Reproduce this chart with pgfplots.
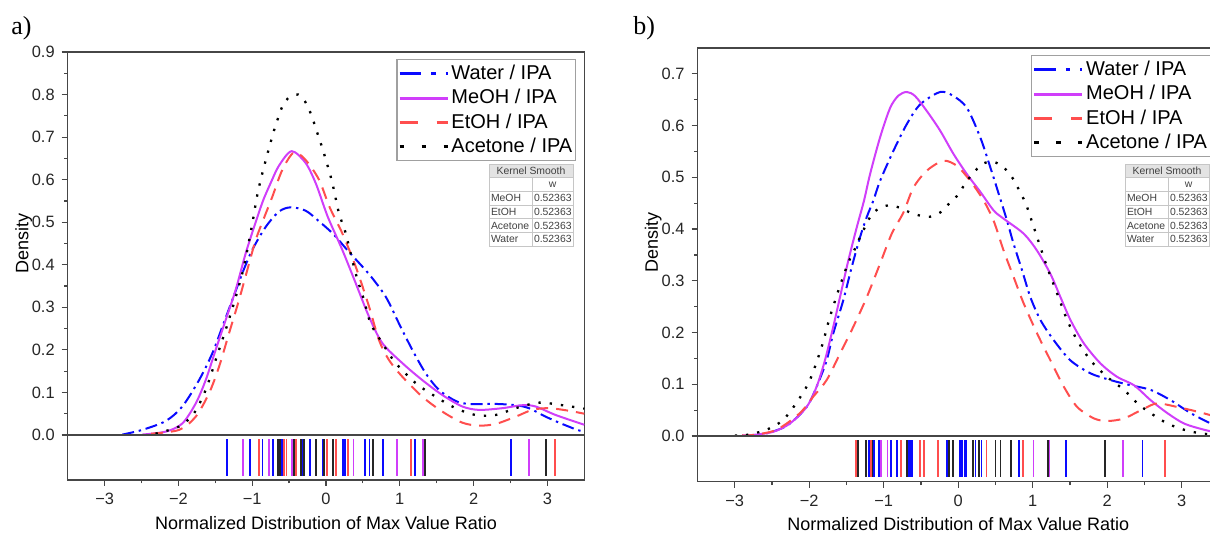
\documentclass[border=0pt]{standalone}
\usepackage{fontspec}
\setmainfont{Liberation Sans}
\newfontfamily\seriffont{Liberation Serif}
\usepackage{pgfplots}
\pgfplotsset{compat=1.18}

\definecolor{cBlue}{RGB}{10,10,255}
\definecolor{cMag}{RGB}{208,62,250}
\definecolor{cRed}{RGB}{255,78,78}
\definecolor{cAxis}{RGB}{70,70,70}
\definecolor{cLeg}{RGB}{160,160,160}

\pgfplotsset{
  every axis/.append style={
    scale only axis,
    xmin=-3.5, xmax=3.5,
    axis line style={cAxis, line width=0.75pt},
    tick align=outside,
    major tick length=3pt,
    minor tick length=1.7pt,
    every tick/.append style={cAxis, line width=0.6pt},
    tick label style={font=\fontsize{8.2}{10}\selectfont, text=black!85},
    label style={font=\fontsize{9}{11}\selectfont},
  },
  mainax/.style={
    ymin=0,
    xtick=\empty,
    ytick pos=left,
    ylabel={Density},
    ylabel style={at={(axis description cs:-0.085,0.5)}, anchor=center},
    legend style={at={(1,1)}, anchor=north east, xshift=-4pt, yshift=-3.5pt,
      draw=cLeg, line width=0.6pt, fill=white,
      font=\fontsize{10}{12}\selectfont,
      inner xsep=0.5pt, inner ysep=1.5pt, row sep=1pt,
      nodes={inner sep=1.2pt}},
    legend cell align=left,
    legend image code/.code={\draw[##1] (0pt,0pt) -- (24pt,0pt);},
  },
  rugax/.style={
    ymin=0, ymax=1,
    ytick=\empty,
    xtick={-3,-2,-1,0,1,2,3},
    xticklabels={−3,−2,−1,0,1,2,3},
    minor xtick={-2.5,-1.5,-0.5,0.5,1.5,2.5},
    xtick pos=left,
    xlabel={Normalized Distribution of Max Value Ratio},
    xlabel style={at={(axis description cs:0.5,0)}, anchor=center, yshift=-21.4pt},
    clip=false,
  },
  rug/.style={only marks, mark=|, mark size=9.2pt, mark options={line width=0.9pt}},
  wat/.style={cBlue, line width=1pt, dash pattern=on 6pt off 2.4pt on 1.2pt off 2.4pt, smooth},
  meo/.style={cMag, line width=1pt, smooth},
  eto/.style={cRed, line width=1pt, dash pattern=on 6pt off 4pt, smooth},
  ace/.style={black, line width=1.15pt, dash pattern=on 1.15pt off 4.5pt, smooth},
}

\newcommand{\legendentries}{%
  \addlegendimage{cBlue, line width=1.5pt, dash pattern=on 10.8pt off 5pt on 2.3pt off 5pt}
  \addlegendentry{Water / IPA}
  \addlegendimage{cMag, line width=1.5pt}
  \addlegendentry{MeOH / IPA}
  \addlegendimage{cRed, line width=1.5pt, dash pattern=on 9pt off 9.5pt}
  \addlegendentry{EtOH / IPA}
  \addlegendimage{black, line width=1.5pt, dash pattern=on 2.3pt off 8.7pt}
  \addlegendentry{Acetone / IPA}
}

\newcommand{\ktable}[2]{%
  \begin{scope}[shift={(#1,#2)}, font=\fontsize{5.2}{6}\selectfont, text=black!75]
    \fill[gray!22] (0pt,0pt) rectangle (42pt,-6.85pt);
    \draw[gray!45, line width=0.35pt] (0pt,0pt) rectangle (42pt,-41.1pt);
    \foreach \i in {1,...,5} {\draw[gray!45, line width=0.35pt] (0pt,-\i*6.85pt) -- (42pt,-\i*6.85pt);}
    \draw[gray!45, line width=0.35pt] (21.5pt,-6.85pt) -- (21.5pt,-41.1pt);
    \node[inner sep=0pt] at (21pt,-3.42pt) {Kernel Smooth};
    \node[inner sep=0pt] at (31.75pt,-10.27pt) {w};
    \node[anchor=west, inner sep=0pt] at (0.8pt,-17.12pt) {MeOH};
    \node[anchor=west, inner sep=0pt] at (0.8pt,-23.97pt) {EtOH};
    \node[anchor=west, inner sep=0pt] at (0.8pt,-30.82pt) {Acetone};
    \node[anchor=west, inner sep=0pt] at (0.8pt,-37.67pt) {Water};
    \node[anchor=west, inner sep=0pt] at (22.3pt,-17.12pt) {0.52363};
    \node[anchor=west, inner sep=0pt] at (22.3pt,-23.97pt) {0.52363};
    \node[anchor=west, inner sep=0pt] at (22.3pt,-30.82pt) {0.52363};
    \node[anchor=west, inner sep=0pt] at (22.3pt,-37.67pt) {0.52363};
  \end{scope}}

\begin{document}
\begin{tikzpicture}
\path (0,0) rectangle (605pt,267pt);

% ================= Panel a =================
\begin{axis}[mainax, at={(33.85pt,49.5pt)}, anchor=south west,
  width=258.3pt, height=191.5pt, ymax=0.9,
  ytick={0,0.1,0.2,0.3,0.4,0.5,0.6,0.7,0.8,0.9},
  yticklabels={0.0,0.1,0.2,0.3,0.4,0.5,0.6,0.7,0.8,0.9},
  minor ytick={0.05,0.15,0.25,0.35,0.45,0.55,0.65,0.75,0.85}]
\legendentries
\addplot[wat, forget plot] coordinates {
(-2.76,0.001) (-2.49,0.012) (-2.17,0.033) (-1.947,0.067) (-1.72,0.129) (-1.54,0.192)
(-1.405,0.254) (-1.27,0.317) (-1.134,0.38) (-0.999,0.435) (-0.817,0.489) (-0.637,0.525)
(-0.478,0.535) (-0.275,0.527) (-0.1,0.503) (0.1,0.472) (0.312,0.43) (0.583,0.378)
(0.809,0.325) (0.989,0.262) (1.17,0.2) (1.351,0.145) (1.531,0.106) (1.757,0.08)
(1.938,0.073) (2.3,0.073) (2.57,0.07) (2.75,0.063) (2.977,0.043) (3.2,0.026)
(3.405,0.012) (3.5,0.008)};
\addplot[meo, forget plot] coordinates {
(-2.49,0.001) (-2.17,0.008) (-1.947,0.027) (-1.766,0.074) (-1.63,0.129) (-1.495,0.2)
(-1.36,0.27) (-1.224,0.341) (-1.088,0.427) (-0.953,0.5) (-0.85,0.552) (-0.75,0.592)
(-0.637,0.633) (-0.465,0.667) (-0.275,0.639) (-0.14,0.592) (-0.027,0.537) (0.04,0.506)
(0.221,0.435) (0.402,0.357) (0.583,0.278) (0.763,0.216) (1.034,0.169) (1.305,0.129)
(1.576,0.094) (1.847,0.067) (2.073,0.059) (2.389,0.063) (2.66,0.07) (2.84,0.067)
(3.112,0.047) (3.5,0.024)};
\addplot[eto, forget plot] coordinates {
(-2.37,0.003) (-1.99,0.012) (-1.766,0.043) (-1.585,0.098) (-1.45,0.16) (-1.314,0.239)
(-1.179,0.317) (-1.066,0.388) (-0.953,0.458) (-0.84,0.51) (-0.727,0.56) (-0.592,0.623)
(-0.434,0.664) (-0.275,0.646) (-0.095,0.6) (0.05,0.535) (0.221,0.474) (0.402,0.396)
(0.583,0.302) (0.718,0.223) (0.854,0.176) (1.034,0.137) (1.305,0.09) (1.576,0.055)
(1.847,0.029) (2.073,0.022) (2.3,0.026) (2.57,0.043) (2.795,0.059) (3.02,0.063)
(3.29,0.057) (3.5,0.05)};
\addplot[ace, forget plot] coordinates {
(-2.31,0.003) (-1.99,0.02) (-1.789,0.051) (-1.63,0.106) (-1.495,0.176) (-1.36,0.247)
(-1.247,0.31) (-1.134,0.38) (-1.066,0.435) (-0.99,0.505) (-0.931,0.564) (-0.863,0.615)
(-0.772,0.674) (-0.695,0.721) (-0.592,0.772) (-0.51,0.792) (-0.375,0.8) (-0.285,0.784)
(-0.208,0.756) (-0.108,0.705) (-0.014,0.654) (0.086,0.592) (0.176,0.521) (0.267,0.474)
(0.402,0.38) (0.515,0.317) (0.605,0.262) (0.763,0.216) (0.944,0.169) (1.215,0.122)
(1.486,0.09) (1.757,0.063) (2.028,0.047) (2.3,0.047) (2.57,0.063) (2.886,0.076)
(3.2,0.07) (3.5,0.062)};
\end{axis}

\begin{axis}[rugax, at={(33.85pt,27pt)}, anchor=south west,
  width=258.3pt, height=22.5pt]
\addplot[rug, cBlue] coordinates {(-1.346,0.5) (-1.03,0.5) (-0.861,0.5) (-0.72,0.5) (-0.598,0.5)
 (-0.317,0.5) (-0.222,0.5) (-0.045,0.5) (0.227,0.5) (0.258,0.5) (0.53,0.5) (0.589,0.5)
 (0.775,0.5) (1.201,0.5) (2.502,0.5)};
\addplot[rug, cMag] coordinates {(-1.12,0.5) (-0.77,0.5) (-0.462,0.5) (0.372,0.5) (0.961,0.5)
 (1.31,0.5) (2.752,0.5)};
\addplot[rug, cRed] coordinates {(-0.907,0.5) (-0.567,0.5) (-0.535,0.5) (-0.403,0.5) (0.009,0.5)
 (0.131,0.5) (0.295,0.5) (1.151,0.5) (3.105,0.5)};
\addplot[rug, black!85] coordinates {(-0.648,0.5) (-0.621,0.5) (-0.43,0.5) (-0.34,0.5) (-0.295,0.5)
 (-0.131,0.5) (-0.023,0.5) (0.091,0.5) (0.635,0.5) (1.337,0.5) (2.983,0.5)};
\end{axis}

% ================= Panel b =================
\begin{axis}[mainax, at={(348.75pt,49pt)}, anchor=south west,
  width=260.75pt, height=194pt, ymax=0.75,
  ytick={0,0.1,0.2,0.3,0.4,0.5,0.6,0.7},
  yticklabels={0.0,0.1,0.2,0.3,0.4,0.5,0.6,0.7},
  minor ytick={0.05,0.15,0.25,0.35,0.45,0.55,0.65}]
\legendentries
\addplot[wat, forget plot] coordinates {
(-2.8,0.001) (-2.6,0.004) (-2.3,0.02) (-2.036,0.056) (-1.902,0.095) (-1.767,0.146)
(-1.678,0.198) (-1.544,0.262) (-1.431,0.326) (-1.319,0.384) (-1.229,0.423) (-1.14,0.455)
(-1.05,0.493) (-0.871,0.551) (-0.69,0.603) (-0.511,0.641) (-0.242,0.665) (-0.063,0.657)
(0.117,0.634) (0.296,0.577) (0.431,0.519) (0.565,0.458) (0.655,0.416) (0.744,0.371)
(0.857,0.32) (0.969,0.268) (1.104,0.224) (1.283,0.185) (1.507,0.146) (1.777,0.121)
(2.046,0.108) (2.315,0.098) (2.584,0.089) (2.853,0.069) (3.122,0.044) (3.392,0.024)
(3.5,0.018)};
\addplot[meo, forget plot] coordinates {
(-2.9,0.001) (-2.755,0.002) (-2.486,0.008) (-2.261,0.024) (-2.036,0.056) (-1.902,0.095)
(-1.79,0.146) (-1.678,0.211) (-1.588,0.268) (-1.476,0.339) (-1.363,0.403) (-1.265,0.455)
(-1.184,0.506) (-1.05,0.577) (-0.915,0.634) (-0.803,0.658) (-0.69,0.665) (-0.579,0.657)
(-0.421,0.628) (-0.242,0.59) (-0.063,0.545) (0.117,0.506) (0.296,0.472) (0.475,0.436)
(0.61,0.42) (0.879,0.391) (1.059,0.358) (1.238,0.313) (1.373,0.268) (1.507,0.224)
(1.686,0.179) (1.911,0.14) (2.136,0.114) (2.36,0.098) (2.584,0.069) (2.809,0.044)
(3.033,0.024) (3.302,0.012) (3.5,0.006)};
\addplot[eto, forget plot] coordinates {
(-2.9,0.001) (-2.755,0.002) (-2.44,0.012) (-2.127,0.044) (-1.947,0.076) (-1.767,0.108)
(-1.588,0.159) (-1.409,0.211) (-1.229,0.268) (-1.05,0.333) (-0.893,0.391) (-0.736,0.432)
(-0.602,0.48) (-0.421,0.513) (-0.198,0.532) (-0.017,0.522) (0.162,0.493) (0.341,0.455)
(0.475,0.416) (0.61,0.358) (0.744,0.307) (0.879,0.256) (1.059,0.198) (1.238,0.146)
(1.418,0.095) (1.597,0.056) (1.821,0.034) (2.001,0.029) (2.225,0.034) (2.494,0.053)
(2.674,0.063) (2.943,0.056) (3.213,0.047) (3.392,0.04) (3.5,0.036)};
\addplot[ace, forget plot] coordinates {
(-3.0,0.001) (-2.844,0.002) (-2.575,0.012) (-2.351,0.031) (-2.149,0.069) (-1.992,0.108)
(-1.834,0.172) (-1.723,0.23) (-1.588,0.29) (-1.476,0.335) (-1.386,0.362) (-1.319,0.384)
(-1.184,0.423) (-1.094,0.437) (-0.938,0.446) (-0.781,0.441) (-0.646,0.432) (-0.511,0.426)
(-0.377,0.424) (-0.242,0.432) (-0.152,0.445) (-0.017,0.464) (0.117,0.493) (0.229,0.513)
(0.341,0.527) (0.475,0.53) (0.61,0.519) (0.723,0.5) (0.857,0.464) (0.925,0.442)
(1.059,0.384) (1.194,0.326) (1.328,0.275) (1.463,0.224) (1.597,0.185) (1.777,0.146)
(2.001,0.114) (2.225,0.089) (2.405,0.063) (2.584,0.044) (2.809,0.024) (3.033,0.012)
(3.257,0.005) (3.5,0.002)};
\end{axis}

\begin{axis}[rugax, at={(348.75pt,26.15pt)}, anchor=south west,
  width=260.75pt, height=22.85pt]
\addplot[rug, cRed] coordinates {(-1.372,0.5) (-1.171,0.5) (-0.766,0.5) (-0.512,0.5) (-0.459,0.5)
 (-0.267,0.5) (0.379,0.5) (0.869,0.5) (2.771,0.5)};
\addplot[rug, black!85] coordinates {(-1.35,0.5) (-1.234,0.5) (-1.149,0.5) (-0.69,0.5) (-0.12,0.5)
 (-0.067,0.5) (0.2,0.5) (0.281,0.5) (0.499,0.5) (0.566,0.5) (0.713,0.5) (1.203,0.5) (1.973,0.5)};
\addplot[rug, cBlue] coordinates {(-1.203,0.5) (-1.127,0.5) (-1.069,0.5) (-0.904,0.5) (-0.824,0.5)
 (-0.664,0.5) (-0.637,0.5) (-0.615,0.5) (-0.147,0.5) (0.022,0.5) (0.053,0.5) (0.089,0.5)
 (0.111,0.5) (0.232,0.5) (0.312,0.5) (0.811,0.5) (1.448,0.5) (2.472,0.5)};
\addplot[rug, cMag] coordinates {(-1.038,0.5) (-0.949,0.5) (1.011,0.5) (1.225,0.5) (2.214,0.5)};
\end{axis}

% tables and panel letters
\ktable{244.5pt}{185pt}
\ktable{562.5pt}{185pt}
\node[anchor=base west, inner sep=0pt, font=\seriffont\fontsize{13}{14}\selectfont] at (5.5pt,249.5pt) {a)};
\node[anchor=base west, inner sep=0pt, font=\seriffont\fontsize{13}{14}\selectfont] at (316.5pt,249.5pt) {b)};

\pgfresetboundingbox
\path[use as bounding box] (0,0) rectangle (605pt,267pt);
\end{tikzpicture}
\end{document}
